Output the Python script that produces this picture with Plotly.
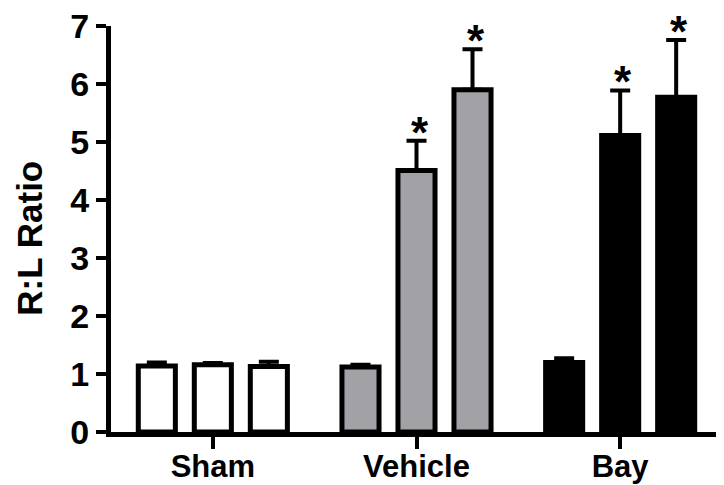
import plotly.graph_objects as go

groups = ["Sham", "Vehicle", "Bay"]
# one list per bar position inside each group
values = [[1.14, 1.12, 1.20],
          [1.16, 4.51, 5.11],
          [1.13, 5.90, 5.77]]
errors = [[0.06, 0.04, 0.07],
          [0.03, 0.51, 0.78],
          [0.08, 0.70, 0.99]]
stars = [[False, False, False],
         [False, True, True],
         [False, True, True]]
fill_colors = ["white", "#a2a2a6", "black"]
y_ticks = [0, 1, 2, 3, 4, 5, 6, 7]

FONT = "Liberation Sans, Arial, sans-serif"
offset = 0.275

fig = go.Figure()
for i in range(3):
    xs = [g + (i - 1) * offset for g in range(len(groups))]
    fig.add_trace(go.Bar(
        x=xs, y=values[i],
        width=0.182,
        marker=dict(color=fill_colors, line=dict(color="black", width=5)),
        error_y=dict(type="data", symmetric=False, array=errors[i],
                     arrayminus=[0] * 3, color="black", thickness=4, width=10),
        showlegend=False,
    ))
    for g in range(len(groups)):
        if stars[i][g]:
            fig.add_annotation(x=xs[g], y=values[i][g] + errors[i][g],
                               text="<b>*</b>", showarrow=False,
                               yanchor="bottom", yshift=-18, xshift=3,
                               font=dict(family=FONT, size=44, color="black"))

fig.add_annotation(xref="paper", yref="paper", x=-0.133, y=0.478,
                   xanchor="center", yanchor="middle",
                   text="<b>R:L Ratio</b>", textangle=-90, showarrow=False,
                   font=dict(family=FONT, size=35, color="black"))

fig.update_layout(
    width=724, height=485,
    margin=dict(l=103, r=10, t=18, b=61),
    plot_bgcolor="white", paper_bgcolor="white",
    font=dict(family=FONT, color="black"),
)
fig.update_xaxes(
    range=[-0.5, 2.5], tickvals=[0, 1, 2],
    ticktext=["<b>%s</b>" % g for g in groups],
    tickfont=dict(size=31), showgrid=False, zeroline=False,
    showline=True, linecolor="black", linewidth=5, automargin=False,
    ticklabelstandoff=-9,
    ticks="outside", ticklen=12, tickwidth=4, tickcolor="black",
)
fig.update_yaxes(
    range=[0, 7], tickvals=y_ticks,
    ticktext=["<b>%d</b>" % t for t in y_ticks],
    tickfont=dict(size=34), showgrid=False, zeroline=False,
    showline=True, linecolor="black", linewidth=5, automargin=False,
    ticklabeloverflow="allow",
    ticks="outside", ticklen=10, tickwidth=4, tickcolor="black",
)

fig.write_html("out.html")
